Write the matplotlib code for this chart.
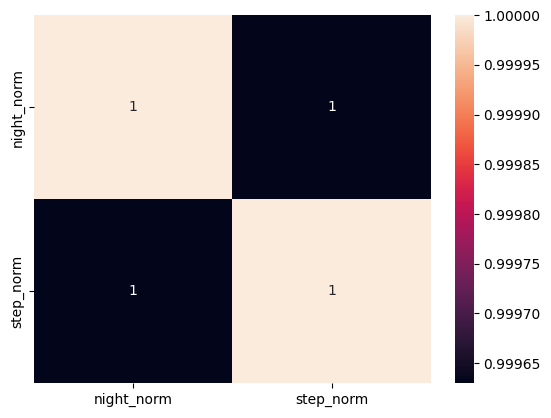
import numpy as np
import pandas as pd
import seaborn as sns
import matplotlib
matplotlib.use("Agg")
import matplotlib.pyplot as plt

cols = ["night_norm", "step_norm"]
corr_vals = [[1.0, 0.99963],
             [0.99963, 1.0]]

corr_df = pd.DataFrame(corr_vals, index=cols, columns=cols)

fig = plt.figure(figsize=(5.51, 4.18), dpi=100)
ax = fig.add_axes([0.0617, 0.0837, 0.7205, 0.880])
cax = fig.add_axes([0.826, 0.0837, 0.034, 0.880])
sns.heatmap(corr_df, annot=True, ax=ax, cbar_ax=cax)
cax.ticklabel_format(useOffset=False)
cax.yaxis.set_major_formatter(matplotlib.ticker.FormatStrFormatter("%.5f"))
fig.savefig("out.png", dpi=100)
